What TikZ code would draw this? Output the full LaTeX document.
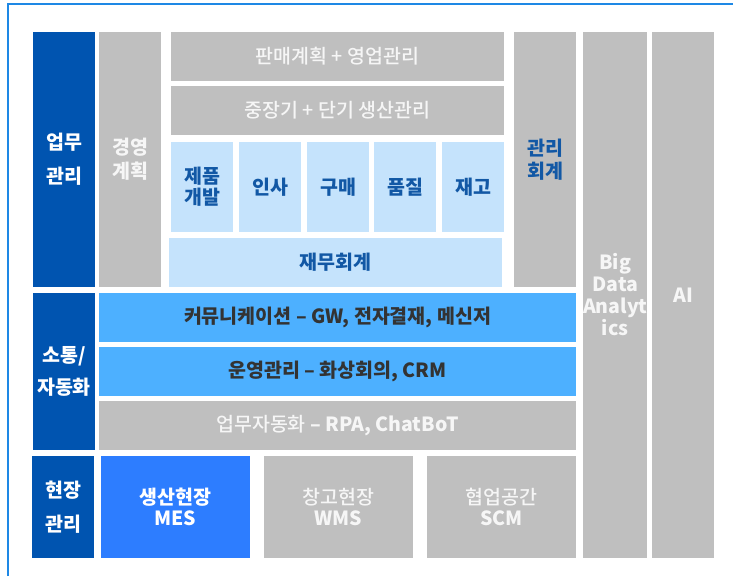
\documentclass[tikz,border=0pt]{standalone}
\usepackage{fontspec}
\setmainfont{Noto Sans CJK KR}
\newfontfamily\krmed{Noto Sans CJK KR Medium}
\newcommand\latbf[1]{{\rmfamily\bfseries #1}}
\definecolor{framecol}{RGB}{30,136,229}
\definecolor{darkblue}{RGB}{0,84,176}
\definecolor{boxgray}{RGB}{191,191,191}
\definecolor{paleblue}{RGB}{197,227,252}
\definecolor{midblue}{RGB}{77,176,255}
\definecolor{mesblue}{RGB}{45,125,255}
\definecolor{navytext}{RGB}{18,88,165}
\definecolor{darktext}{RGB}{51,51,51}
\definecolor{softwhite}{RGB}{246,246,246}
\begin{document}
\begin{tikzpicture}[x=1pt, y=-1pt]
    % Styles
    \tikzstyle{block} = [rectangle, anchor=north west, inner sep=0pt, outer sep=0pt, align=center, font=\fontsize{19.5}{21}\selectfont]
    \tikzstyle{headbox} = [block, fill=darkblue, text=white, font=\fontsize{19.5}{34}\selectfont\bfseries]
    \tikzstyle{graybox} = [block, fill=boxgray, text=softwhite, font=\fontsize{19.5}{21}\selectfont\krmed]
    \tikzstyle{palebox} = [block, fill=paleblue, text=navytext, font=\fontsize{19.5}{21}\selectfont\bfseries]
    \tikzstyle{bluebox} = [block, fill=midblue, text=darktext, font=\fontsize{19.5}{21}\selectfont\bfseries]
    \tikzstyle{frame} = [draw=framecol, line width=2pt]

    \useasboundingbox (0,0) rectangle (733,576);
    \draw [frame] (8,576) -- (8,4) -- (733,4);

    % Row heads
    \node (biz) [headbox, minimum width=62pt, minimum height=255pt] at (33,32) {업무\\관리};
    \node (comm) [headbox, minimum width=62pt, minimum height=157pt, font=\fontsize{19.5}{32}\selectfont\bfseries] at (33,293) {소통/\\자동화};
    \node (site) [headbox, minimum width=62pt, minimum height=102pt] at (32,456) {현장\\관리};

    % Business management
    \node (plan) [graybox, minimum width=62pt, minimum height=255pt, font=\fontsize{19.5}{24}\selectfont\bfseries] at (99,32) {경영\\계획};
    \node (sales) [graybox, minimum width=333pt, minimum height=49pt] at (171,32) {판매계획 + 영업관리};
    \node (prod) [graybox, minimum width=333pt, minimum height=49pt] at (171,86) {중장기 + 단기 생산관리};
    \node (dev) [palebox, minimum width=62pt, minimum height=90pt] at (171,142) {제품\\개발};
    \node (hr) [palebox, minimum width=62pt, minimum height=90pt] at (239,142) {인사};
    \node (buy) [palebox, minimum width=62pt, minimum height=90pt] at (307,142) {구매};
    \node (qc) [palebox, minimum width=62pt, minimum height=90pt] at (374,142) {품질};
    \node (stock) [palebox, minimum width=62pt, minimum height=90pt] at (442,142) {재고};
    \node (fin) [palebox, minimum width=333pt, minimum height=49pt] at (169,238) {재무회계};
    \node (mgmt) [graybox, minimum width=62pt, minimum height=255pt, text=navytext, font=\fontsize{19.5}{23}\selectfont\bfseries] at (514,32) {관리\\회계};

    % Communication and automation
    \node (gw) [bluebox, minimum width=477pt, minimum height=49pt] at (99,293) {커뮤니케이션 – GW, 전자결재, 메신저};
    \node (ops) [bluebox, minimum width=477pt, minimum height=49pt] at (99,347) {운영관리 – 화상회의, CRM};
    \node (rpa) [graybox, minimum width=477pt, minimum height=49pt] at (99,401) {업무자동화 \latbf{– RPA, ChatBoT}};

    % Field management
    \node (mes) [block, fill=mesblue, text=white, minimum width=149pt, minimum height=102pt, font=\fontsize{19.5}{21}\selectfont\bfseries] at (101,456) {생산현장\\MES};
    \node (wms) [graybox, minimum width=149pt, minimum height=102pt] at (264,456) {창고현장\\\latbf{WMS}};
    \node (scm) [graybox, minimum width=149pt, minimum height=102pt] at (427,456) {협업공간\\\latbf{SCM}};

    % Data and AI
    \node (bigdata) [graybox, minimum width=62pt, minimum height=526pt, font=\fontsize{19.5}{22}\selectfont\bfseries] at (583,32) {Big\\Data\\Analyt\\ics};
    \node (ai) [graybox, minimum width=62pt, minimum height=526pt, font=\fontsize{19.5}{22}\selectfont\bfseries] at (652,32) {AI};
\end{tikzpicture}
\end{document}
